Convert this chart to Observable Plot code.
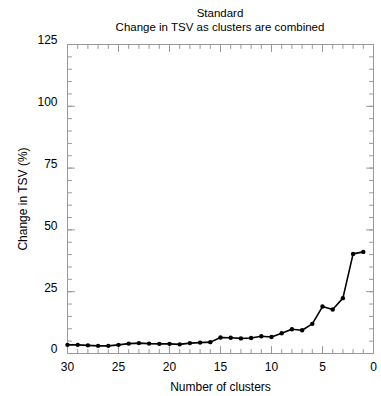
<!DOCTYPE html>
<html><head><meta charset="utf-8">
<script src="https://cdn.jsdelivr.net/npm/d3@7"></script>
<script src="https://cdn.jsdelivr.net/npm/@observablehq/plot@0.6"></script>
<style>
body{margin:0;background:#fff;font-family:"Liberation Sans",Arial,Helvetica,sans-serif;}
#title{margin-left:67px;width:306px;height:34px;box-sizing:border-box;padding-top:6px;text-align:center;font-size:11.5px;line-height:14px;color:#000;}
</style></head>
<body>
<div id="title"><div>Standard</div><div>Change in TSV as clusters are combined</div></div>
<div id="chart"></div>
<script>
const clusters = [30,29,28,27,26,25,24,23,22,21,20,19,18,17,16,15,14,13,12,11,10,9,8,7,6,5,4,3,2,1];
const change = [3.5,3.5,3.3,3.1,3.1,3.5,4.0,4.2,4.0,3.9,3.9,3.7,4.2,4.4,4.6,6.5,6.4,6.1,6.3,7.0,6.7,8.2,9.8,9.4,12.0,19.0,17.8,22.4,40.3,41.1];
const xMajor = [30,25,20,15,10,5,0];
const xMinor = d3.range(0, 31, 1);
const yMajor = [0,25,50,75,100,125];
const yMinor = d3.range(0, 126, 5);

const data = clusters.map((c, i) => ({c, v: change[i]}));
const line = {draw(ctx, l) { ctx.moveTo(0, 0); ctx.lineTo(0, -l); }};
const tickColor = "#999";
const font = '"Liberation Sans",Arial,Helvetica,sans-serif';

function ticks(values, dim, anchor, rot, len) {
  const o = {frameAnchor: anchor, rotate: rot, length: len, anchor: "start", shape: line, stroke: tickColor, strokeWidth: 1};
  o[dim] = d => d;
  return Plot.vector(values, o);
}

const chart = Plot.plot({
  width: 381,
  height: 362,
  marginLeft: 67,
  marginRight: 8,
  marginTop: 10,
  marginBottom: 43,
  style: {fontFamily: font, fontSize: "12px", background: "#fff", color: "#000"},
  x: {domain: [30, 0]},
  y: {domain: [0, 125]},
  marks: [
    Plot.frame({stroke: tickColor}),
    ticks(xMinor, "x", "bottom", 0, 4),
    ticks(xMajor, "x", "bottom", 0, 7),
    ticks(xMinor, "x", "top", 180, 4),
    ticks(xMajor, "x", "top", 180, 7),
    ticks(yMinor, "y", "left", 90, 4),
    ticks(yMajor, "y", "left", 90, 7),
    ticks(yMinor, "y", "right", -90, 4),
    ticks(yMajor, "y", "right", -90, 7),
    Plot.axisX({ticks: xMajor, tickSize: 0, tickPadding: 9, fontSize: 12, label: "Number of clusters", labelAnchor: "center", labelArrow: "none", labelOffset: 37}),
    Plot.axisY({ticks: yMajor, tickSize: 0, tickPadding: 10, dy: -4, fontSize: 12, label: "Change in TSV (%)", labelAnchor: "center", labelArrow: "none", labelOffset: 49}),
    Plot.line(data, {x: "c", y: "v", stroke: "#000", strokeWidth: 1.6}),
    Plot.dot(data, {x: "c", y: "v", fill: "#000", r: 2.2})
  ]
});
document.getElementById("chart").appendChild(chart);
</script>
</body></html>
